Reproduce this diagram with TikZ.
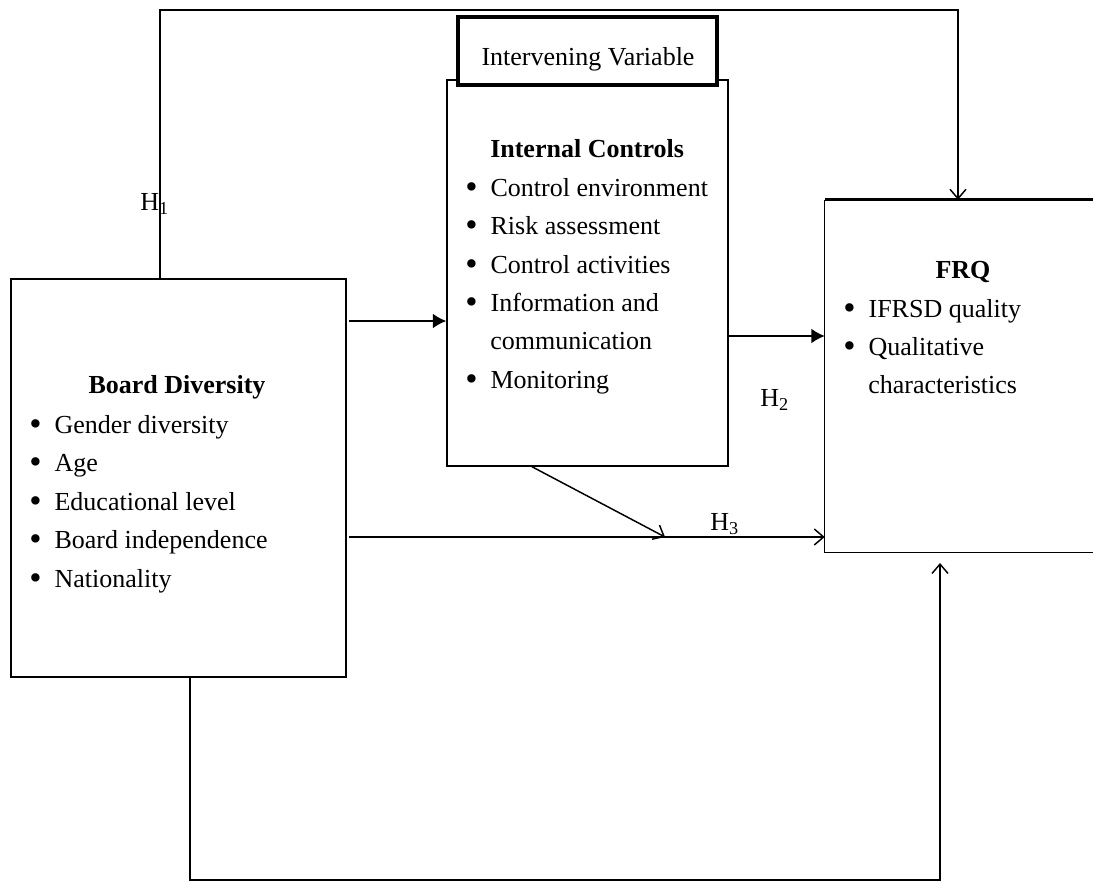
\documentclass[tikz,border=0pt]{standalone}
\usepackage{fontspec}
\setmainfont{Liberation Serif}
\usetikzlibrary{fit,arrows.meta}
\newcommand\bitem{\makebox[19pt][l]{\raisebox{-0.11em}{\scalebox{1.35}{•}}}}
\begin{document}
\begin{tikzpicture}[x=0.75pt,y=-0.75pt]
\tikzset{
  box/.style={draw, line width=1.1pt, inner sep=0pt},
  txt/.style={font=\fontsize{19.5}{24}\selectfont, inner sep=0pt, anchor=base west},
  conn/.style={line width=1.1pt},
  solidtip/.style={-{Latex[length=10pt,width=11pt]}},
  opentip/.style={-{Straight Barb[length=7pt,width=12pt]}},
}
\useasboundingbox (0,0) rectangle (1093,882);
% boxes
\node[box, fit={(11,279)(346,677)}] (bd) {};
\node[box, fit={(447,80)(728,466)}] (ic) {};
\node[box, line width=2.6pt, fill=white, fit={(458,17)(717,85)}] (iv) {};
\node[inner sep=0pt, fit={(825,200)(1093,552)}] (frq) {};
\draw[line width=2.4pt] (frq.north west) -- (frq.north east);
\draw[line width=1.1pt] (frq.north west) -- (frq.south west) -- (frq.south east);
% texts
\node[txt, anchor=base] (ivt) at (588,65) {Intervening Variable};
\node[txt, anchor=base] (bdt) at (177,393) {\textbf{Board Diversity}};
\node[txt] (bd1) at (29,433) {\bitem Gender diversity};
\node[txt] (bd2) at (29,471) {\bitem Age};
\node[txt] (bd3) at (29,510) {\bitem Educational level};
\node[txt] (bd4) at (29,548) {\bitem Board independence};
\node[txt] (bd5) at (29,587) {\bitem Nationality};
\node[txt] (ict) at (490,157) {\textbf{Internal Controls}};
\node[txt] (ic1) at (465,196) {\bitem Control environment};
\node[txt] (ic2) at (465,234) {\bitem Risk assessment};
\node[txt] (ic3) at (465,273) {\bitem Control activities};
\node[txt] (ic4) at (465,311) {\bitem Information and};
\node[txt] (ic5) at (490,349) {communication};
\node[txt] (ic6) at (465,388) {\bitem Monitoring};
\node[txt, anchor=base] (frqt) at (963,278) {\textbf{FRQ}};
\node[txt] (fr1) at (843,317) {\bitem IFRSD quality};
\node[txt] (fr2) at (843,355) {\bitem Qualitative};
\node[txt] (fr3) at (868,393) {characteristics};
% labels
\node[txt] (h1) at (140,210) {H\textsubscript{1}};
\node[txt] (h2) at (760,406) {H\textsubscript{2}};
\node[txt] (h3) at (710,530) {H\textsubscript{3}};
% connectors
\coordinate (tl) at (160,10);
\coordinate (tr) at (958,10);
\draw[conn, opentip] (bd.north -| tl) -- (tl) -- (tr) -- (tr |- frq.north);
\draw[conn, solidtip] ([xshift=2pt]bd.east |- 0,321) -- (ic.west |- 0,321);
\draw[conn, solidtip] (ic.east |- 0,336) -- (frq.west |- 0,336);
\draw[conn, opentip] ([xshift=2pt]bd.east |- 0,537) -- (frq.west |- 0,537);
\coordinate (d1) at (665,537);
\draw[conn, opentip] (ic.south -| 532,0) -- (d1);
\coordinate (bl) at (190,880);
\coordinate (br) at (940,880);
\coordinate (bt) at (940,563);
\draw[conn, opentip] (bd.south -| bl) -- (bl) -- (br) -- (bt);
\end{tikzpicture}
\end{document}
